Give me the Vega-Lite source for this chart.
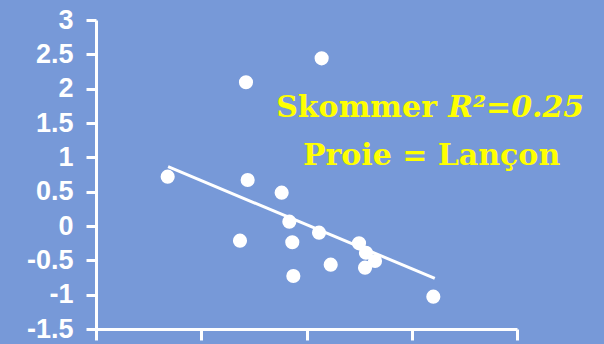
{
  "$schema": "https://vega.github.io/schema/vega-lite/v6.json",
  "width": 421,
  "height": 309,
  "autosize": "none",
  "padding": {"left": 96, "top": 20, "right": 87, "bottom": 15},
  "background": "#7799d8",
  "config": {"view": {"stroke": null}, "axis": {"labelOverlap": false}},
  "layer": [
    {
      "data": {"values": [
        {"x": 0.681, "y": 0.718},
        {"x": 1.425, "y": 2.093},
        {"x": 2.144, "y": 2.442},
        {"x": 1.441, "y": 0.670},
        {"x": 1.764, "y": 0.485},
        {"x": 1.837, "y": 0.063},
        {"x": 2.119, "y": -0.097},
        {"x": 1.368, "y": -0.214},
        {"x": 1.865, "y": -0.237},
        {"x": 2.499, "y": -0.252},
        {"x": 2.565, "y": -0.389},
        {"x": 2.651, "y": -0.510},
        {"x": 2.556, "y": -0.607},
        {"x": 2.230, "y": -0.563},
        {"x": 1.875, "y": -0.728},
        {"x": 3.205, "y": -1.029}
      ]},
      "mark": {"type": "point", "shape": "circle", "filled": true, "color": "white", "opacity": 1, "size": 200},
      "encoding": {
        "x": {"field": "x", "type": "quantitative", "scale": {"domain": [0, 4], "nice": false, "zero": false},
          "axis": {"values": [0, 1, 2, 3, 4], "labels": false, "title": null, "grid": false,
            "domainColor": "white", "domainWidth": 3, "tickColor": "white", "tickWidth": 3, "tickSize": 11}},
        "y": {"field": "y", "type": "quantitative", "scale": {"domain": [-1.5, 3], "nice": false, "zero": false},
          "axis": {"tickCount": 10, "title": null, "grid": false, "labelExpr": "'' + datum.value",
            "domainColor": "white", "domainWidth": 3, "tickColor": "white", "tickWidth": 3, "tickSize": 10,
            "labelColor": "white", "labelFont": "Liberation Sans", "labelFontWeight": "bold", "labelFontSize": 27,
            "labelPadding": 13, "labelOverlap": false, "labelBound": false, "labelFlush": false}}
      }
    },
    {
      "data": {"values": [
        {"x": 0.685, "y": 0.863},
        {"x": 3.219, "y": -0.762}
      ]},
      "mark": {"type": "line", "color": "white", "strokeWidth": 3},
      "encoding": {
        "x": {"field": "x", "type": "quantitative"},
        "y": {"field": "y", "type": "quantitative"}
      }
    },
    {
      "data": {"values": [{"x": 3.240, "y": 1.587, "t": "Skommer"}]},
      "mark": {"type": "text", "align": "right", "baseline": "alphabetic", "font": "DejaVu Serif", "fontWeight": "bold", "fontSize": 30, "color": "#ffff00"},
      "encoding": {
        "x": {"field": "x", "type": "quantitative"},
        "y": {"field": "y", "type": "quantitative"},
        "text": {"field": "t"}
      }
    },
    {
      "data": {"values": [{"x": 3.344, "y": 1.587, "t": "R²=0.25"}]},
      "mark": {"type": "text", "align": "left", "baseline": "alphabetic", "font": "DejaVu Serif", "fontWeight": "bold", "fontStyle": "italic", "fontSize": 30, "color": "#ffff00"},
      "encoding": {
        "x": {"field": "x", "type": "quantitative"},
        "y": {"field": "y", "type": "quantitative"},
        "text": {"field": "t"}
      }
    },
    {
      "data": {"values": [{"x": 3.188, "y": 0.888, "t": "Proie = Lançon"}]},
      "mark": {"type": "text", "align": "center", "baseline": "alphabetic", "font": "DejaVu Serif", "fontWeight": "bold", "fontSize": 30, "color": "#ffff00"},
      "encoding": {
        "x": {"field": "x", "type": "quantitative"},
        "y": {"field": "y", "type": "quantitative"},
        "text": {"field": "t"}
      }
    }
  ]
}
